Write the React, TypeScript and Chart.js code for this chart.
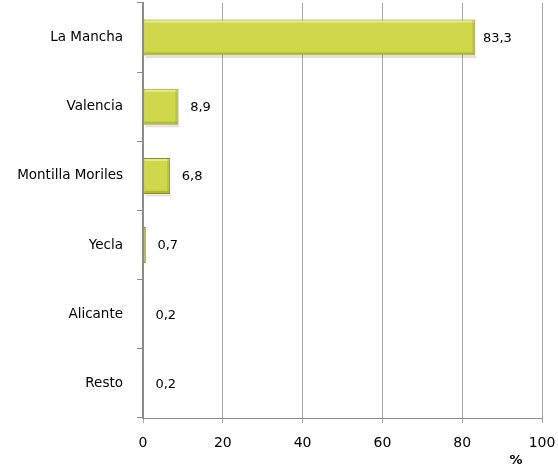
import React, { useEffect, useRef } from "react";
import { Chart, registerables } from "chart.js";

Chart.register(...registerables);

const categories = ["La Mancha", "Valencia", "Montilla Moriles", "Yecla", "Alicante", "Resto"];
const values = [83.3, 8.9, 6.8, 0.7, 0.2, 0.2];
const xTicks = [0, 20, 40, 60, 80, 100];
const axisUnit = "%";

const FONT = "'DejaVu Sans', sans-serif";

const bevelPlugin = {
  id: "bevel",
  afterDatasetsDraw(chart: any) {
    const ctx = chart.ctx;
    const meta = chart.getDatasetMeta(0);
    ctx.save();
    meta.data.forEach((el: any) => {
      const left = Math.min(el.base, el.x);
      const right = Math.max(el.base, el.x);
      const top = el.y - el.height / 2;
      const bottom = el.y + el.height / 2;
      const w = right - left;
      if (w < 3) return;
      // shadow under bar
      ctx.fillStyle = "rgba(0,0,0,0.12)";
      ctx.fillRect(left + 2, bottom + 0.5, w - 1, 2);
      // top highlight
      ctx.fillStyle = "rgba(240,245,170,0.7)";
      ctx.fillRect(left + 1, top + 1, w - 2, 2);
      // bottom shade
      ctx.fillStyle = "rgba(150,155,30,0.55)";
      ctx.fillRect(left + 1, bottom - 3, w - 2, 2);
      // right bevel
      ctx.fillStyle = "rgba(165,170,40,0.45)";
      ctx.fillRect(right - 3, top + 1, 2, bottom - top - 2);
    });
    ctx.restore();
  },
};

const labelPlugin = {
  id: "valueLabels",
  afterDatasetsDraw(chart: any) {
    const ctx = chart.ctx;
    const meta = chart.getDatasetMeta(0);
    ctx.save();
    ctx.font = `13px ${FONT}`;
    ctx.fillStyle = "#000";
    ctx.textAlign = "center";
    ctx.textBaseline = "middle";
    meta.data.forEach((el: any, i: number) => {
      const txt = values[i].toFixed(1).replace(".", ",");
      ctx.fillText(txt, el.x + 22, el.y + 1);
    });
    ctx.font = `bold 13px ${FONT}`;
    ctx.fillText(axisUnit, 516, 461);
    ctx.restore();
  },
};

export default function App() {
  const ref = useRef<HTMLCanvasElement>(null);
  useEffect(() => {
    if (!ref.current) return;
    const chart = new Chart(ref.current, {
      type: "bar",
      data: {
        labels: categories,
        datasets: [
          {
            data: values,
            backgroundColor: "#ced84a",
            borderColor: "#8a8b1c",
            borderWidth: 1,
            borderSkipped: false,
            categoryPercentage: 1,
            barPercentage: 0.52,
          },
        ],
      },
      options: {
        indexAxis: "y",
        animation: false,
        responsive: false,
        layout: { padding: { top: 3, right: 16, left: 0, bottom: 0 } },
        plugins: { legend: { display: false }, tooltip: { enabled: false } },
        scales: {
          x: {
            min: 0,
            max: 100,
            afterBuildTicks: (s: any) => {
              s.ticks = xTicks.map((v) => ({ value: v }));
            },
            afterFit: (s: any) => {
              s.height = 50;
              s.paddingLeft = 0;
              s.paddingRight = 0;
              s.paddingTop = 0;
              s.paddingBottom = 0;
            },
            grid: {
              color: "#a6a6a6",
              lineWidth: 1,
              drawTicks: true,
              tickLength: 5,
            },
            border: { display: true, color: "#8c8c8c", width: 1 },
            ticks: {
              font: { family: FONT, size: 14 },
              color: "#000",
              padding: 12,
              maxRotation: 0,
            },
          },
          y: {
            afterFit: (s: any) => {
              s.width = 143;
              s.paddingTop = 0;
              s.paddingBottom = 0;
              s.paddingLeft = 0;
              s.paddingRight = 0;
            },
            grid: {
              offset: true,
              drawOnChartArea: false,
              drawTicks: true,
              tickLength: 6,
              color: "#8c8c8c",
            },
            border: { display: true, color: "#8c8c8c", width: 2 },
            ticks: {
              font: { family: FONT, size: 13.5 },
              color: "#000",
              padding: 14,
            },
          },
        },
      },
      plugins: [bevelPlugin, labelPlugin],
    });
    return () => chart.destroy();
  }, []);
  return (
    <div style={{ position: "fixed", left: 0, top: 0, width: 558, height: 468, background: "#fff" }}>
      <canvas ref={ref} width={558} height={468} style={{ width: 558, height: 468 }} />
    </div>
  );
}
